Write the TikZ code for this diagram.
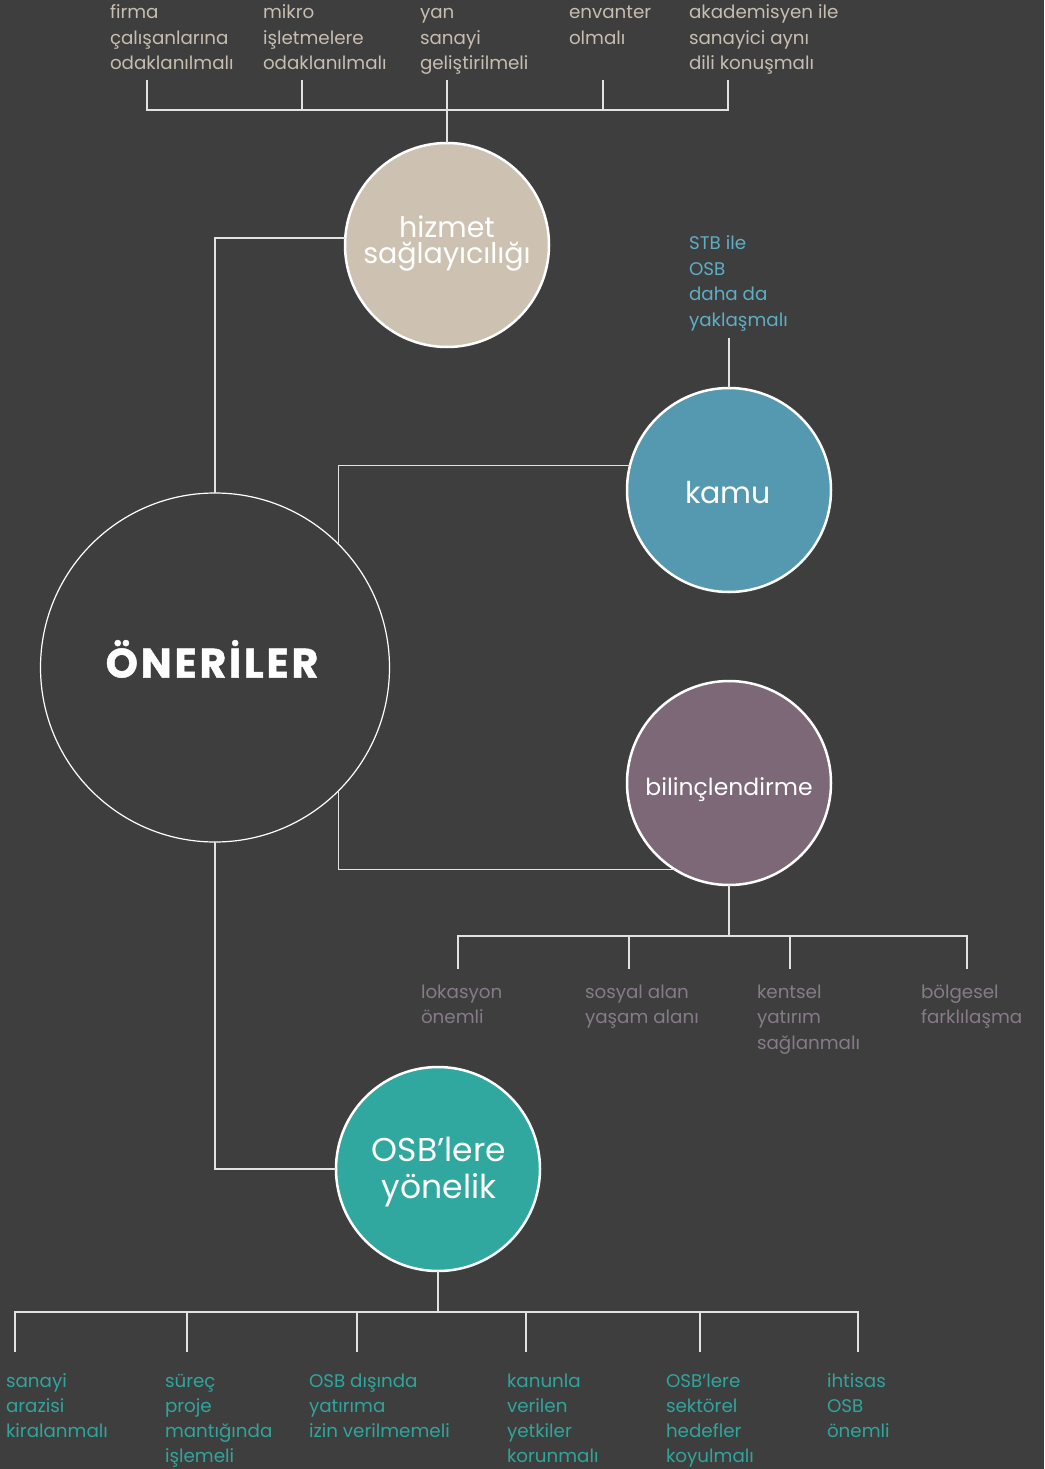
\documentclass[tikz,border=0pt]{standalone}
\usepackage{fontspec}
\setmainfont{Poppins}
\definecolor{bg}{HTML}{3E3E3E}
\definecolor{linecol}{HTML}{E2E2E2}
\definecolor{hizfill}{HTML}{CDC2B2}
\definecolor{kamfill}{HTML}{5599B0}
\definecolor{bilfill}{HTML}{7C6877}
\definecolor{osbfill}{HTML}{30A79F}
\definecolor{toptext}{HTML}{C7BDB0}
\definecolor{stbtext}{HTML}{5EAEC4}
\definecolor{biltext}{HTML}{877A89}
\definecolor{osbtext}{HTML}{2FA59C}
\begin{document}
\begin{tikzpicture}[x=1pt,y=-1pt,
  conn/.style={draw=linecol,line width=1.6pt},
  bubble/.style={circle,draw=white,line width=2.5pt,minimum size=204pt,inner sep=0pt,outer sep=0pt},
  bubtxt/.style={anchor=base,inner sep=0pt,text=white,align=center},
  lbl/.style={anchor=base west,inner sep=0pt,outer sep=0pt,align=left,font=\fontsize{18.3}{25.5}\selectfont},
  lblo/.style={lbl,font=\fontsize{18.3}{25}\selectfont}]
\fill[bg] (0,0) rectangle (1044,1469);
\useasboundingbox (0,0) rectangle (1044,1469);

% circles
\node[circle,draw=white,line width=1.2pt,minimum size=349pt,inner sep=0pt,outer sep=0pt] (main) at (215,667.5) {};
\node[bubtxt,font=\fontsize{41}{42}\selectfont\bfseries\addfontfeature{LetterSpace=7,FakeBold=1.2}] (mainT) at (212,677.5) {ÖNERİLER};
\node[bubble,fill=hizfill] (hiz) at (447,245) {};
\node[bubtxt,font=\fontsize{28.5}{26}\selectfont] (hizT) at (447,263) {hizmet\\sağlayıcılığı};
\node[bubble,fill=kamfill] (kam) at (729,490) {};
\node[bubtxt,font=\fontsize{30}{32}\selectfont] (kamT) at (728,503) {kamu};
\node[bubble,fill=bilfill] (bil) at (729,783) {};
\node[bubtxt,font=\fontsize{23.5}{26}\selectfont] (bilT) at (729,795) {bilinçlendirme};
\node[bubble,fill=osbfill] (osb) at (438,1169) {};
\node[bubtxt,font=\fontsize{33}{37}\selectfont] (osbT) at (439,1198) {OSB’lere\\yönelik};

% top texts
\node[lbl,text=toptext] (f1) at (110,70) {firma\\çalışanlarına\\odaklanılmalı};
\node[lbl,text=toptext] (f2) at (263,70) {mikro\\işletmelere\\odaklanılmalı};
\node[lbl,text=toptext] (f3) at (420,70) {yan\\sanayi\\geliştirilmeli};
\node[lbl,text=toptext] (f4) at (569,44.5) {envanter\\olmalı};
\node[lbl,text=toptext] (f5) at (689,70) {akademisyen ile\\sanayici aynı\\dili konuşmalı};
\coordinate (f1b) at (147,80);
\coordinate (f2b) at (302,80);
\coordinate (f3b) at (447,80);
\coordinate (f4b) at (603,80);
\coordinate (f5b) at (728,80);
\draw[conn] (f1b) -- ++(0,30) -| (f5b);
\draw[conn] (f2b) -- ++(0,30);
\draw[conn] (f4b) -- ++(0,30);
\draw[conn] (f3b) -- (hiz.north);

% STB
\node[lbl,text=stbtext] (stb) at (689,326) {STB ile\\OSB\\daha da\\yaklaşmalı};
\coordinate (stbb) at (729,338);
\draw[conn] (stbb) -- (kam.north);

% main links
\draw[conn] (hiz.176) -| (main.north);
\draw[conn] (kam.166.4) -| (main.45.6);
\draw[conn] (main.-45.6) |- (bil.238.5);
\draw[conn] (main.south) |- (osb.west);

% bilinclendirme children
\node[lbl,text=biltext] (b1t) at (421,1023.5) {lokasyon\\önemli};
\node[lbl,text=biltext] (b2t) at (585,1023.5) {sosyal alan\\yaşam alanı};
\node[lbl,text=biltext] (b3t) at (757,1049) {kentsel\\yatırım\\sağlanmalı};
\node[lbl,text=biltext] (b4t) at (921,1023.5) {bölgesel\\farklılaşma};
\coordinate (b1) at (458,969);
\coordinate (b2) at (629,969);
\coordinate (b3) at (790,969);
\coordinate (b4) at (967,969);
\draw[conn] (bil.south) -- ++(0,51);
\draw[conn] (b1) -- ++(0,-33) -| (b4);
\draw[conn] (b2) -- ++(0,-33);
\draw[conn] (b3) -- ++(0,-33);

% OSB children
\node[lblo,text=osbtext] (o1t) at (6,1437) {sanayi\\arazisi\\kiralanmalı};
\node[lblo,text=osbtext] (o2t) at (165,1462) {süreç\\proje\\mantığında\\işlemeli};
\node[lblo,text=osbtext] (o3t) at (309,1437) {OSB dışında\\yatırıma\\izin verilmemeli};
\node[lblo,text=osbtext] (o4t) at (507,1462) {kanunla\\verilen\\yetkiler\\korunmalı};
\node[lblo,text=osbtext] (o5t) at (666,1462) {OSB’lere\\sektörel\\hedefler\\koyulmalı};
\node[lblo,text=osbtext] (o6t) at (827,1437) {ihtisas\\OSB\\önemli};
\coordinate (o1) at (15,1352);
\coordinate (o2) at (187,1352);
\coordinate (o3) at (357,1352);
\coordinate (o4) at (526,1352);
\coordinate (o5) at (700,1352);
\coordinate (o6) at (858,1352);
\draw[conn] (osb.south) -- ++(0,41);
\draw[conn] (o1) -- ++(0,-40) -| (o6);
\draw[conn] (o2) -- ++(0,-40);
\draw[conn] (o3) -- ++(0,-40);
\draw[conn] (o4) -- ++(0,-40);
\draw[conn] (o5) -- ++(0,-40);
\end{tikzpicture}
\end{document}
